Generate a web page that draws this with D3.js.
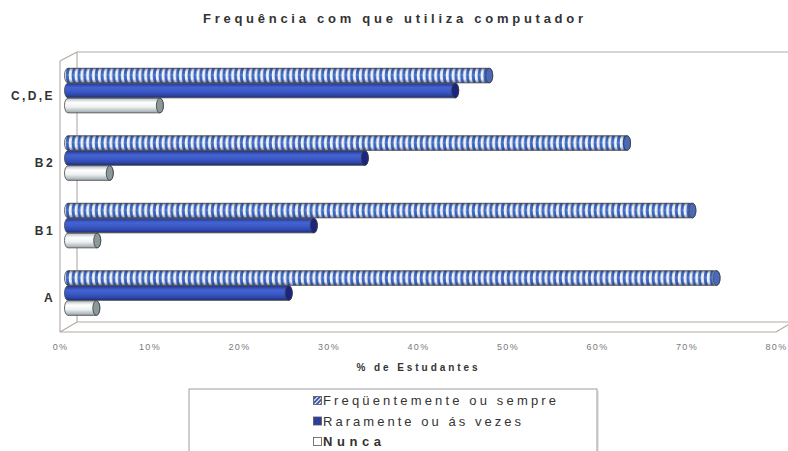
<!DOCTYPE html>
<html>
<head>
<meta charset="utf-8">
<script src="https://cdnjs.cloudflare.com/ajax/libs/d3/7.8.5/d3.min.js"></script>
<style>
body { margin: 0; background: #fff; }
text { font-family: 'Liberation Sans', Arial, sans-serif; }
</style>
</head>
<body>
<div id="chart"></div>
<script>
var categories = ['C,D,E', 'B2', 'B1', 'A'];
var seriesNames = ['Freqüentemente ou sempre', 'Raramente ou ás vezes', 'Nunca'];
var frequente = [47.4, 62.8, 70.1, 72.8];
var raramente = [43.6, 33.5, 27.8, 25.0];
var nunca = [10.6, 5.0, 3.6, 3.5];
var xTicks = [0, 10, 20, 30, 40, 50, 60, 70, 80];

var width = 788,
    height = 451;

var svg = d3
    .select('#chart')
    .append('svg')
    .attr('width', width)
    .attr('height', height);

var x = d3.scaleLinear().domain([0, 80]).range([60, 776]);
var y = d3
    .scaleBand()
    .domain(categories)
    .range([62, 332])
    .paddingInner(1 / 3)
    .paddingOuter(1 / 6);
var inner = d3.scaleBand().domain([0, 1, 2]).range([0, y.bandwidth()]);

// depth of the 3d box, and how far the bars sit behind the front
var depth = { x: 17, y: -10 };
var barOff = { x: 5, y: -5 };

var defs = svg.append('defs');

function addGradient(id, stops) {
    var g = defs
        .append('linearGradient')
        .attr('id', id)
        .attr('x1', 0)
        .attr('y1', 0)
        .attr('x2', 0)
        .attr('y2', 1);
    stops.forEach(function(s) {
        g.append('stop')
            .attr('offset', s[0])
            .attr('stop-color', s[1])
            .attr('stop-opacity', s[2] === undefined ? 1 : s[2]);
    });
}

addGradient('gradRara', [[0, '#25368f'], [0.3, '#4464d4'], [0.55, '#3b5ac6'], [0.82, '#2e46a8'], [1, '#1d2a78']]);
addGradient('gradNunca', [[0, '#b4bfc3'], [0.3, '#ffffff'], [0.6, '#eef1f1'], [1, '#98a6ab']]);
addGradient('shade', [[0, '#101a40', 0.4], [0.25, '#101a40', 0], [0.45, '#ffffff', 0.12], [0.72, '#101a40', 0], [1, '#101a40', 0.45]]);

// hatch for the legend swatch
var hatch = defs
    .append('pattern')
    .attr('id', 'legHatch')
    .attr('patternUnits', 'userSpaceOnUse')
    .attr('width', 3)
    .attr('height', 3)
    .attr('patternTransform', 'rotate(45)');
hatch.append('rect').attr('width', 3).attr('height', 3).attr('fill', '#2c4aa8');
hatch.append('rect').attr('width', 1.2).attr('height', 3).attr('fill', '#ffffff');

// frame of the 3d box
var frameColor = '#b3a7a3';
var fx0 = x(0),
    fx1 = x(80),
    fyTop = 61,
    fyBot = 332;
var frameLines = [
    [fx0 + depth.x, fyTop + depth.y + 1, width + 10, fyTop + depth.y + 1],
    [fx0 + depth.x, fyTop + depth.y + 1, fx0 + depth.x, fyBot + depth.y],
    [fx0, fyTop, fx0 + depth.x, fyTop + depth.y + 1],
    [fx0, fyTop, fx0, fyBot],
    [fx0, fyBot, fx1, fyBot],
    [fx0 + depth.x, fyBot + depth.y, fx1 + depth.x, fyBot + depth.y],
    [fx0, fyBot, fx0 + depth.x, fyBot + depth.y],
    [fx1, fyBot, fx1 + depth.x, fyBot + depth.y]
];
svg.append('g')
    .selectAll('line')
    .data(frameLines)
    .enter()
    .append('line')
    .attr('x1', function(d) { return d[0]; })
    .attr('y1', function(d) { return d[1]; })
    .attr('x2', function(d) { return d[2]; })
    .attr('y2', function(d) { return d[3]; })
    .attr('stroke', frameColor)
    .attr('stroke-width', 1.1);

function cylPath(xa, xb, yy, h, rx) {
    var ry = h / 2;
    return 'M' + xa + ',' + yy + 'L' + xb + ',' + yy +
        'A' + rx + ',' + ry + ' 0 0 1 ' + xb + ',' + (yy + h) +
        'L' + xa + ',' + (yy + h) +
        'A' + rx + ',' + ry + ' 0 0 1 ' + xa + ',' + yy + 'Z';
}

var series = [frequente, raramente, nunca];
var bodyFill = [null, 'url(#gradRara)', 'url(#gradNunca)'];
var capFill = ['#4b69bb', '#1b2580', '#8c999c'];
var rx = 3.5;

var bars = [];
categories.forEach(function(c, i) {
    series.forEach(function(s, j) {
        bars.push({ cat: c, ci: i, si: j, value: s[i] });
    });
});

bars.forEach(function(d) {
    // rounded left end starts just behind the front wall
    d.xa = x(0) + barOff.x + rx - 0.5;
    d.xb = x(d.value) + barOff.x;
    d.y = y(d.cat) + barOff.y + inner(d.si);
    d.h = inner.bandwidth() - 0.4;
    if (d.si === 0) {
        var p = defs
            .append('pattern')
            .attr('id', 'freq' + d.ci)
            .attr('patternUnits', 'userSpaceOnUse')
            .attr('x', d.xa)
            .attr('y', d.y)
            .attr('width', 5.8)
            .attr('height', d.h);
        p.append('rect').attr('width', 5.8).attr('height', d.h).attr('fill', '#3a66c2');
        var h = d.h;
        p.append('path')
            .attr('d', 'M2.0,0 C0.3,' + h * 0.35 + ' 0.3,' + h * 0.65 + ' 2.0,' + h +
                ' L4.8,' + h + ' C3.1,' + h * 0.65 + ' 3.1,' + h * 0.35 + ' 4.8,0 Z')
            .attr('fill', '#f4f7fb');
    }
});

var barG = svg
    .append('g')
    .selectAll('g')
    .data(bars)
    .enter()
    .append('g');

barG.append('path')
    .attr('d', function(d) { return cylPath(d.xa, d.xb, d.y, d.h, rx); })
    .attr('fill', function(d) { return d.si === 0 ? 'url(#freq' + d.ci + ')' : bodyFill[d.si]; })
    .attr('stroke', '#454545')
    .attr('stroke-width', 0.8);

barG.filter(function(d) { return d.si === 0; })
    .append('path')
    .attr('d', function(d) { return cylPath(d.xa, d.xb, d.y, d.h, rx); })
    .attr('fill', 'url(#shade)');

barG.append('ellipse')
    .attr('cx', function(d) { return d.xb; })
    .attr('cy', function(d) { return d.y + d.h / 2; })
    .attr('rx', rx)
    .attr('ry', function(d) { return d.h / 2; })
    .attr('fill', function(d) { return capFill[d.si]; })
    .attr('stroke', '#3a3a3a')
    .attr('stroke-width', 0.8);

// x axis labels
var xAxis = svg
    .append('g')
    .attr('transform', 'translate(0,344)')
    .call(d3.axisBottom(x).tickValues(xTicks).tickSize(0).tickPadding(0).tickFormat(function(d) { return d + '%'; }));
xAxis.select('.domain').remove();
xAxis.selectAll('text')
    .attr('font-size', 9)
    .attr('fill', '#7a7a7a')
    .style('letter-spacing', '1.3px')
    .style('font-family', "'Liberation Sans', Arial, sans-serif");

// category labels
var yAxis = svg
    .append('g')
    .attr('transform', 'translate(60,0)')
    .call(d3.axisLeft(y).tickSize(0).tickPadding(5));
yAxis.select('.domain').remove();
yAxis.selectAll('text')
    .attr('font-size', 12)
    .attr('font-weight', 'bold')
    .attr('fill', '#333')
    .style('letter-spacing', '2.4px')
    .style('font-family', "'Liberation Sans', Arial, sans-serif");

// title and axis title
svg.append('text')
    .attr('x', 393)
    .attr('y', 23)
    .attr('text-anchor', 'middle')
    .attr('font-size', 13)
    .attr('font-weight', 'bold')
    .attr('fill', '#333')
    .attr('textLength', 380)
    .attr('lengthAdjust', 'spacing')
    .text('Frequência com que utiliza computador');

svg.append('text')
    .attr('x', 417)
    .attr('y', 371)
    .attr('text-anchor', 'middle')
    .attr('font-size', 10)
    .attr('font-weight', 'bold')
    .attr('fill', '#333')
    .attr('textLength', 121)
    .attr('lengthAdjust', 'spacing')
    .text('% de Estudantes');

// legend
var legend = svg.append('g');
legend.append('rect')
    .attr('x', 191)
    .attr('y', 391)
    .attr('width', 408)
    .attr('height', 80)
    .attr('fill', '#e6e6e6');
legend.append('rect')
    .attr('x', 189)
    .attr('y', 389)
    .attr('width', 408)
    .attr('height', 80)
    .attr('fill', '#fff')
    .attr('stroke', '#9d9d9d')
    .attr('stroke-width', 1);

var legendFill = ['url(#legHatch)', '#2c3f9f', '#ffffff'];
var legendLen = [233, 198, 58];
var legendItems = legend
    .selectAll('.item')
    .data(seriesNames)
    .enter()
    .append('g')
    .attr('class', 'item')
    .attr('transform', function(d, i) { return 'translate(313,' + (405 + i * 20.5) + ')'; });

legendItems.append('rect')
    .attr('x', 0.5)
    .attr('y', -8.5)
    .attr('width', 8)
    .attr('height', 8)
    .attr('fill', function(d, i) { return legendFill[i]; })
    .attr('stroke', '#555')
    .attr('stroke-width', 0.8);

legendItems.append('text')
    .attr('x', 10)
    .attr('y', 0)
    .attr('font-size', 13)
    .attr('font-weight', function(d, i) { return i === 2 ? 'bold' : 'normal'; })
    .attr('fill', '#333')
    .attr('textLength', function(d, i) { return legendLen[i]; })
    .attr('lengthAdjust', 'spacing')
    .text(function(d) { return d; });
</script>
</body>
</html>
